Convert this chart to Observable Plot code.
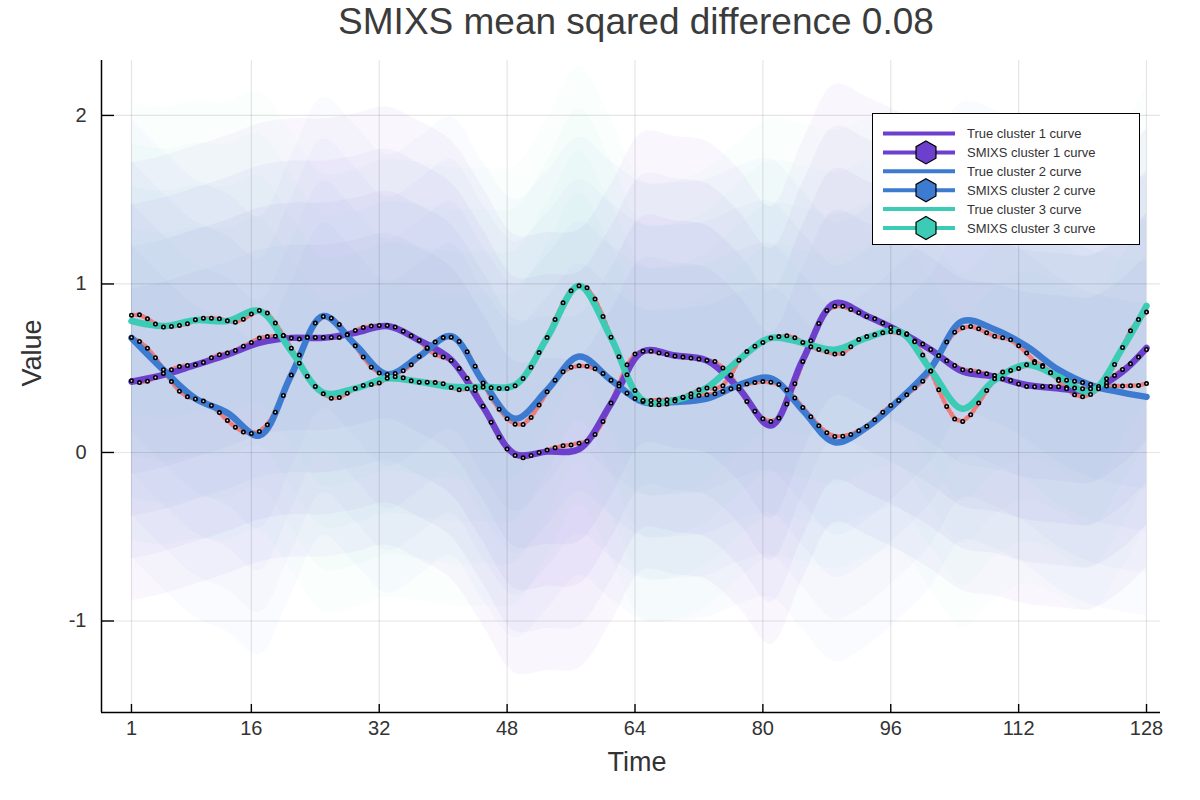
<!DOCTYPE html>
<html>
<head>
<meta charset="utf-8">
<script src="https://cdn.jsdelivr.net/npm/d3@7"></script>
<script src="https://cdn.jsdelivr.net/npm/@observablehq/plot@0.6"></script>
<style>
  body { margin: 0; background: #fff; font-family: "Liberation Sans", Arial, Helvetica, sans-serif; }
  #wrap { position: relative; width: 1200px; height: 800px; overflow: hidden; background: #fff; }
  #title { position: absolute; left: 0; top: 1px; width: 1272px; text-align: center; font-size: 37px; line-height: 42px; color: #3b3b3b; white-space: nowrap; }
  #chart { position: absolute; left: 0; top: 60px; }
  #legend { position: absolute; left: 872px; top: 113px; width: 268px; height: 132px; box-sizing: border-box; border: 1px solid #000; background: #fff; }
</style>
</head>
<body>
<div id="wrap">
  <div id="title">SMIXS mean sqared difference 0.08</div>
  <div id="chart"></div>
  <div id="legend"></div>
</div>
<script>
// ---------- data ----------
const clusters = ["cluster 1", "cluster 2", "cluster 3"];
const colors = ["#6c3fcc", "#3d7bd1", "#3ccbb4"];
const time = d3.range(1, 129);               // 1..128
const trueTime = [1,5,9,13,17,21,25,29,33,37,41,45,49,53,57,61,65,69,73,77,81,85,89,93,97,101,105,109,113,117,121,125,128];
const xTicks = [1,16,32,48,64,80,96,112,128];
const yTicks = [-1,0,1,2];

// true cluster curves (sampled every 4 time steps)
const true1 = [0.42,0.46,0.52,0.58,0.65,0.68,0.68,0.71,0.75,0.665,0.55,0.27,-0.01,0.005,0.02,0.29,0.60,0.575,0.545,0.38,0.16,0.55,0.885,0.81,0.72,0.61,0.48,0.45,0.40,0.38,0.37,0.48,0.62];
const true2 = [0.68,0.49,0.32,0.235,0.10,0.46,0.81,0.64,0.465,0.57,0.69,0.42,0.20,0.37,0.57,0.43,0.30,0.30,0.32,0.40,0.44,0.25,0.06,0.15,0.31,0.50,0.78,0.73,0.63,0.49,0.40,0.355,0.33];
const true3 = [0.78,0.75,0.785,0.78,0.84,0.60,0.355,0.38,0.44,0.42,0.39,0.39,0.40,0.68,0.99,0.68,0.31,0.31,0.385,0.55,0.68,0.65,0.61,0.68,0.72,0.49,0.26,0.43,0.52,0.45,0.36,0.62,0.87];

// SMIXS estimated curves (every time step)
const smixs1 = [0.425,0.415,0.423,0.445,0.469,0.491,0.510,0.516,0.520,0.534,0.562,0.580,0.590,0.605,0.631,0.653,0.679,0.688,0.690,0.692,0.679,0.673,0.685,0.683,0.683,0.683,0.683,0.700,0.724,0.742,0.750,0.754,0.754,
  0.744,0.720,0.692,
  0.665,0.617,0.580,0.566,0.546,0.498,0.441,0.368,0.275,0.180,0.091,0.020,-0.018,-0.032,-0.018,0.000,0.014,0.028,0.040,0.045,0.055,0.067,0.107,0.184,0.293,0.408,0.520,0.584,0.601,0.601,0.591,0.582,0.572,0.566,0.560,0.554,0.546,0.540,0.502,0.456,
  0.378,0.303,0.245,0.200,0.184,0.204,0.287,0.408,0.540,0.663,0.766,0.843,0.868,0.868,0.849,0.829,0.807,0.793,0.768,0.742,0.720,
  0.700,0.661,0.643,0.611,0.576,0.544,0.516,0.491,0.487,0.479,0.467,0.457,0.437,0.427,0.407,0.392,0.390,0.392,0.392,0.390,0.386,0.382,0.378,0.378,0.385,0.413,0.457,0.493,0.526,0.566,0.611];
const smixs2 = [0.683,0.659,0.619,0.562,0.491,0.421,0.364,0.330,0.318,0.305,0.279,0.237,0.190,0.150,0.121,0.113,0.125,0.164,0.239,0.338,0.459,0.578,0.683,0.768,0.807,0.797,0.760,0.698,0.633,0.566,0.506,0.471,0.463,
  0.469,0.485,0.520,
  0.570,0.621,0.655,0.682,0.684,0.659,0.597,0.512,0.413,0.324,0.257,0.200,0.168,0.166,0.208,0.281,0.360,0.429,0.479,0.506,0.514,0.512,0.497,0.469,0.429,0.394,0.352,0.320,0.303,0.309,0.311,0.313,0.315,0.326,0.330,0.338,0.342,0.348,0.362,0.378,
  0.392,0.406,0.415,0.421,0.417,0.404,0.370,0.324,0.267,0.212,0.158,0.117,0.095,0.097,0.107,0.129,0.156,0.194,0.239,0.279,0.309,
  0.342,0.382,0.423,0.483,0.574,0.655,0.714,0.740,0.748,0.734,0.710,0.690,0.681,0.669,0.633,0.590,0.540,0.516,0.475,0.435,0.429,0.423,0.415,0.404,0.392,0.394,0.394,0.394,0.396,0.398,0.409];
const smixs3 = [0.815,0.817,0.793,0.762,0.744,0.748,0.754,0.764,0.788,0.797,0.797,0.793,0.781,0.773,0.791,0.821,0.843,0.827,0.768,0.694,0.619,0.530,0.453,0.392,0.348,0.322,0.326,0.352,0.380,0.398,0.404,0.413,0.440,
  0.450,0.443,0.425,
  0.417,0.417,0.415,0.408,0.386,0.372,0.378,0.388,0.388,0.384,0.380,0.380,0.396,0.439,0.506,0.593,0.682,0.789,0.888,0.959,0.989,0.977,0.910,0.807,0.684,0.568,0.461,0.368,0.309,0.285,0.283,0.287,0.305,0.328,0.348,0.372,0.382,0.378,0.396,0.459,
  0.548,0.599,0.631,0.653,0.679,0.688,0.692,0.681,0.653,0.627,0.611,0.597,0.584,0.588,0.627,0.671,0.688,0.698,0.710,0.716,0.710,
  0.704,0.657,0.578,0.483,0.372,0.273,0.198,0.184,0.224,0.293,0.368,0.437,0.477,0.487,0.499,0.520,0.532,0.510,0.473,0.427,0.378,0.342,0.330,0.344,0.378,0.437,0.522,0.623,0.722,0.789,0.833];

// approximate spread of the noisy observed series around each true curve
const noiseSpread = [1.3, 1.05, 0.8, 0.55];

// ---------- tables ----------
const trueSeries = [true1, true2, true3];
const smixsSeries = [smixs1, smixs2, smixs3];
const trueRows = trueSeries.flatMap((s, i) => s.map((v, j) => ({t: trueTime[j], v, c: clusters[i]})));
const smixsRows = smixsSeries.flatMap((s, i) => s.map((v, j) => ({t: time[j], v, c: clusters[i]})));

const xDomain = [-2.75, 129.75];
const yDomain = [-1.543, 2.326];
const W = 1200, H = 740, mL = 101, mR = 40, mT = 0, mB = 88;
const frameW = W - mL - mR, frameH = H - mT - mB;
const font = '"Liberation Sans", Arial, Helvetica, sans-serif';
const hazeOpacity = [0.038, 0.029, 0.026];

const haze = [];
trueSeries.forEach((s, i) => {
  const rows = s.map((v, j) => ({t: trueTime[j], v}));
  noiseSpread.forEach(sp => {
    haze.push(Plot.areaY(rows, {x: "t", y1: d => d.v - sp, y2: d => d.v + sp, fill: colors[i], fillOpacity: hazeOpacity[i], curve: "catmull-rom"}));
  });
});

const chart = Plot.plot({
  width: W, height: H,
  marginLeft: mL, marginRight: mR, marginTop: mT, marginBottom: mB,
  x: {domain: xDomain},
  y: {domain: yDomain},
  color: {domain: clusters, range: colors},
  style: {fontFamily: font, background: "transparent", color: "#333", overflow: "visible"},
  marks: [
    ...haze,
    Plot.ruleX(xTicks, {stroke: "#000", strokeOpacity: 0.1, strokeWidth: 1.2}),
    Plot.ruleY(yTicks, {stroke: "#000", strokeOpacity: 0.1, strokeWidth: 1.2}),
    Plot.line(smixsRows, {x: "t", y: "v", z: "c", stroke: "#f07b7b", strokeWidth: 4.5, strokeDasharray: "2,3"}),
    Plot.line(trueRows, {x: "t", y: "v", z: "c", stroke: "c", strokeWidth: 6.5, curve: "catmull-rom"}),
    Plot.dot(smixsRows, {x: "t", y: "v", r: 1.7, stroke: "#000", strokeWidth: 1.6, fill: "#d8dcef"}),
    Plot.ruleX([xDomain[0]], {stroke: "#000", strokeWidth: 1.5}),
    Plot.ruleY([yDomain[0]], {stroke: "#000", strokeWidth: 1.5}),
    Plot.tickY(yTicks, {stroke: "#000", strokeWidth: 1.4, insetRight: frameW - 13}),
    Plot.tickX(xTicks, {stroke: "#000", strokeWidth: 1.4, insetTop: frameH - 8}),
    Plot.axisX(xTicks, {tickSize: 0, tickPadding: 8, fontSize: 20, label: null, fill: "#333", tickFormat: d => String(d)}),
    Plot.axisY(yTicks, {tickSize: 0, tickPadding: 15, fontSize: 20, label: null, fill: "#333", tickFormat: d => String(d)}),
    Plot.text(["Time"], {frameAnchor: "bottom", dy: 58, dx: 6, fontSize: 27, fill: "#333"}),
    Plot.text(["Value"], {frameAnchor: "left", dx: -69, rotate: -90, fontSize: 27, fill: "#333"})
  ]
});
document.getElementById("chart").appendChild(chart);

// ---------- legend ----------
const legendItems = [
  {label: "True cluster 1 curve", color: colors[0], marker: false},
  {label: "SMIXS cluster 1 curve", color: colors[0], marker: true},
  {label: "True cluster 2 curve", color: colors[1], marker: false},
  {label: "SMIXS cluster 2 curve", color: colors[1], marker: true},
  {label: "True cluster 3 curve", color: colors[2], marker: false},
  {label: "SMIXS cluster 3 curve", color: colors[2], marker: true}
];
const lg = d3.select("#legend").append("svg").attr("width", 266).attr("height", 130);
const hex = r => d3.range(6).map(k => {
  const a = (-90 + 60 * k) * Math.PI / 180;
  return [r * Math.cos(a), r * Math.sin(a)];
});
legendItems.forEach((it, i) => {
  const y = 19.5 + i * 18.9;
  const g = lg.append("g").attr("transform", `translate(0,${y})`);
  g.append("line").attr("x1", 10).attr("x2", 82).attr("y1", 0).attr("y2", 0)
    .attr("stroke", it.color).attr("stroke-width", 4);
  if (it.marker) {
    g.append("polygon").attr("points", hex(11.5).map(p => p.join(",")).join(" "))
      .attr("transform", "translate(53,0)")
      .attr("fill", it.color).attr("stroke", "#000").attr("stroke-width", 1.2);
  }
  g.append("text").attr("x", 94).attr("y", 0).attr("dy", "0.36em")
    .attr("font-family", font).attr("font-size", 13).attr("fill", "#333").text(it.label);
});
</script>
</body>
</html>
